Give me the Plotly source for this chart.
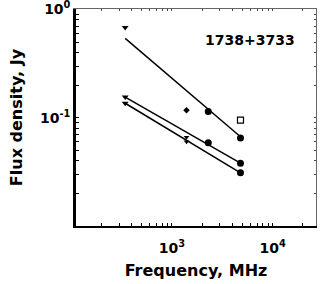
import plotly.graph_objects as go

# ---- data ----
freq_low = [345]
freq_1400 = [1400]
freq_2300 = [2300]
freq_4800 = [4800]

# series A (upper)
a_325 = [0.68]
a_1400 = [0.117]
a_2300 = [0.114]
a_4800_open = [0.095]
a_4800 = [0.065]

# series B (middle)
b_325 = [0.155]
b_1400 = [0.066]
b_2300 = [0.0586]
b_4800 = [0.038]

# series C (lower)
c_325 = [0.136]
c_1400 = [0.060]
c_4800 = [0.031]

# power-law fits: flux at the low frequency and at 4800 MHz
fit_freq = [345, 4800]
fit_a = [0.54, 0.0667]
fit_b = [0.155, 0.038]
fit_c = [0.136, 0.031]

label_text = "1738+3733"
x_major = [1e3, 1e4]
x_major_text = ["10<sup>3</sup>", "10<sup>4</sup>"]
y_major = [1e-2, 1e-1, 1e0]
y_major_text = ["", "10<sup>-1</sup>", "10<sup>0</sup>"]

# ---- figure ----
FONT = "DejaVu Sans"
fig = go.Figure()

for fy in (fit_a, fit_b, fit_c):
    fig.add_trace(go.Scatter(x=fit_freq, y=fy, mode="lines",
                             line=dict(color="black", width=1.5), showlegend=False))

def mk(x, y, symbol, size, color="black", lw=0):
    fig.add_trace(go.Scatter(x=x, y=y, mode="markers", showlegend=False,
                             marker=dict(symbol=symbol, size=size, color=color,
                                         line=dict(color="black", width=lw))))

mk(freq_low, a_325, "triangle-down", 6)
mk(freq_low, b_325, "triangle-down", 6)
mk(freq_low, c_325, "triangle-down", 6)
mk(freq_1400, a_1400, "diamond", 5)
mk(freq_1400, b_1400, "triangle-down", 5)
mk(freq_1400, c_1400, "triangle-down", 5)
mk(freq_2300, a_2300, "circle", 7)
mk(freq_2300, b_2300, "circle", 7)
mk(freq_4800, a_4800_open, "square-open", 6, lw=1.2)
mk(freq_4800, a_4800, "circle", 7)
mk(freq_4800, b_4800, "circle", 7)
mk(freq_4800, c_4800, "circle", 7)

# invisible trace for mirror axes
fig.add_trace(go.Scatter(x=[1e3], y=[0.1], xaxis="x2", yaxis="y2", mode="markers",
                         marker=dict(opacity=0), showlegend=False, hoverinfo="skip"))

def minor_vals(lo, hi):
    v = []
    for d in range(lo, hi):
        for m in range(2, 10):
            v.append(m * 10 ** d)
    return v

xr = [2.05, 4.43]
yr = [-2.0, 0.004]
xminor = minor_vals(2, 5)
yminor = minor_vals(-2, 0)

xt_vals = x_major + xminor
xt_text = x_major_text + [""] * len(xminor)
yt_vals = y_major + yminor
yt_text = y_major_text + [""] * len(yminor)

fig.update_layout(
    width=327, height=284,
    margin=dict(l=76, r=11, t=9, b=58),
    paper_bgcolor="white", plot_bgcolor="white",
    font=dict(family=FONT, color="black"),
    xaxis=dict(type="log", range=xr, showgrid=False, zeroline=False, automargin=False,
               showline=True, linecolor="black", linewidth=2,
               tickmode="array", tickvals=xt_vals, ticktext=xt_text,
               ticks="inside", ticklen=3, tickcolor="black", ticklabelstandoff=8,
               tickfont=dict(size=14, family=FONT, weight="bold"),
               title=dict(text="Frequency, MHz", font=dict(size=16, family=FONT, weight="bold"),
                          standoff=10)),
    yaxis=dict(type="log", range=yr, showgrid=False, zeroline=False, automargin=False,
               showline=True, linecolor="black", linewidth=2.5,
               tickmode="array", tickvals=yt_vals, ticktext=yt_text,
               ticks="inside", ticklen=3, tickcolor="black", ticklabeloverflow="allow",
               tickfont=dict(size=14, family=FONT, weight="bold"),
               title=dict(text="Flux density, Jy", font=dict(size=16, family=FONT, weight="bold"),
                          standoff=14)),
    xaxis2=dict(type="log", range=xr, overlaying="x", side="top", anchor="y", automargin=False,
                showgrid=False, zeroline=False, showline=True, linecolor="#666666",
                linewidth=1, tickmode="array", tickvals=xt_vals,
                ticktext=[""] * len(xt_vals), ticks="inside", ticklen=2, tickcolor="#444444"),
    yaxis2=dict(type="log", range=yr, overlaying="y", side="right", anchor="x", automargin=False,
                showgrid=False, zeroline=False, showline=True, linecolor="#666666",
                linewidth=1, tickmode="array", tickvals=yt_vals,
                ticktext=[""] * len(yt_vals), ticks="inside", ticklen=2, tickcolor="#444444"),
    annotations=[dict(text=label_text, x=0.725, y=0.857, xref="paper", yref="paper",
                      xanchor="center", yanchor="middle",
                      showarrow=False, font=dict(size=14, family=FONT, weight="bold"))],
)

fig.write_html("out.html", config={"displayModeBar": False},
               post_script="document.body.style.margin='0';")
